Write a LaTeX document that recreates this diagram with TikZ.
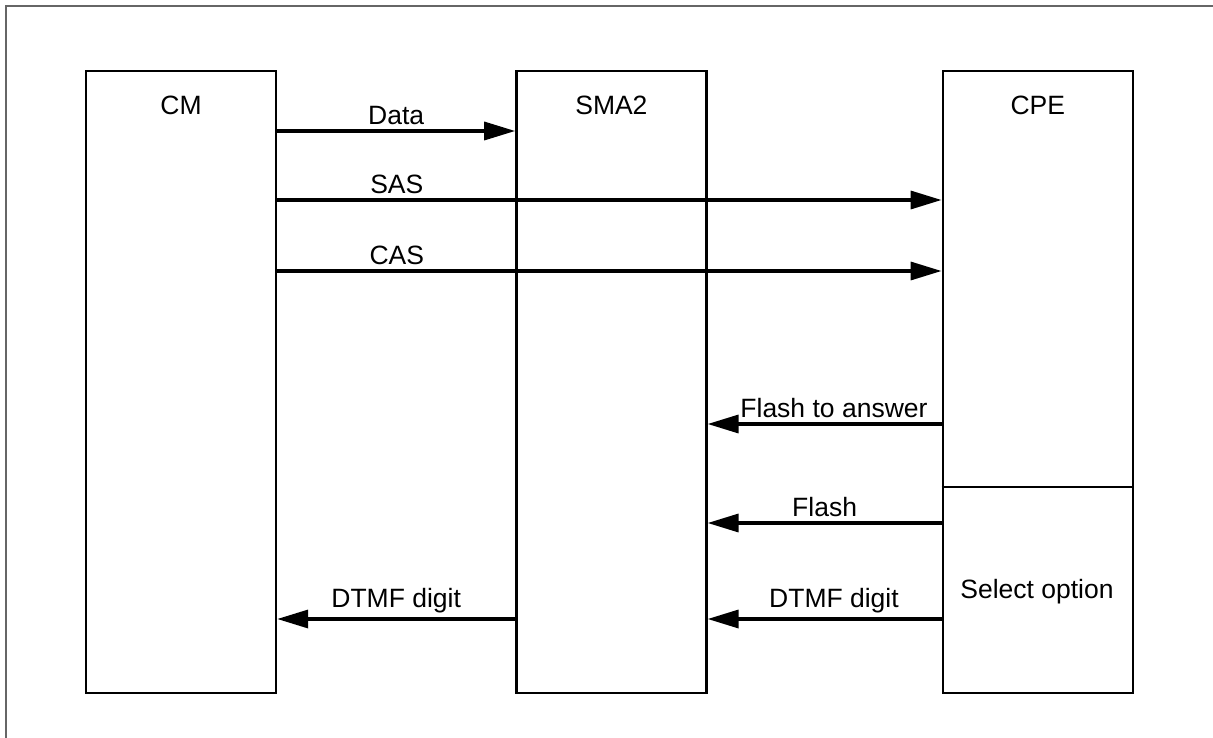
\documentclass[tikz,border=0pt]{standalone}
\usepackage{fontspec}
\setmainfont{Liberation Sans}
\usetikzlibrary{arrows.meta,positioning}

\tikzset{
  entity/.style={draw, line width=2.4pt, minimum width=190pt, minimum height=622pt, inner sep=0pt},
  msg/.style={line width=3.4pt, -{Triangle[length=31pt,width=18pt]}},
  lbl/.style={above=1pt}
}

\begin{document}
\begin{tikzpicture}[x=1pt,y=1pt,font=\fontsize{26.5}{31}\selectfont]
  \useasboundingbox (0,0) rectangle (1213,-738);

  % Frame along the top and left
  \draw[black!60, line width=2pt] (6,-738) -- (6,-6) -- (1213,-6);

  % The three columns
  \node[entity] (cm) at (181,-382) {};
  \node[entity, right=238pt of cm] (sma) {};
  \node[entity, right=234pt of sma] (cpe) {};

  \node[below=23pt of cm.north] (cmlbl) {CM};
  \node[below=23pt of sma.north] (smalbl) {SMA2};
  \node[below=23pt of cpe.north] (cpelbl) {CPE};

  % Split of the CPE column
  \coordinate (split) at (0,-487);
  \draw[line width=1.2pt] (cpe.west |- split) -- (cpe.east |- split);
  \node (opt) at (1037,-592) {Select option};

  % Rows of the messages
  \foreach \name/\y in {rdata/131, rsas/200, rcas/271, rfta/424, rflash/523, rdtmf/619}
    \coordinate (\name) at (0,-\y);

  \draw[msg] (cm.east |- rdata) -- node[lbl] {Data} (sma.west |- rdata);
  \draw[msg] (cm.east |- rsas) -- node[lbl, pos=0.18] {SAS} (cpe.west |- rsas);
  \draw[msg] (cm.east |- rcas) -- node[lbl, pos=0.18] {CAS} (cpe.west |- rcas);

  \draw[msg] (cpe.west |- rfta) -- node[lbl, pos=0.46] {Flash to answer} (sma.east |- rfta);
  \draw[msg] (cpe.west |- rflash) -- node[lbl] {Flash} (sma.east |- rflash);
  \draw[msg] (cpe.west |- rdtmf) -- node[lbl, pos=0.46] {DTMF digit} (sma.east |- rdtmf);
  \draw[msg] (sma.west |- rdtmf) -- node[lbl] {DTMF digit} (cm.east |- rdtmf);

\end{tikzpicture}
\end{document}
